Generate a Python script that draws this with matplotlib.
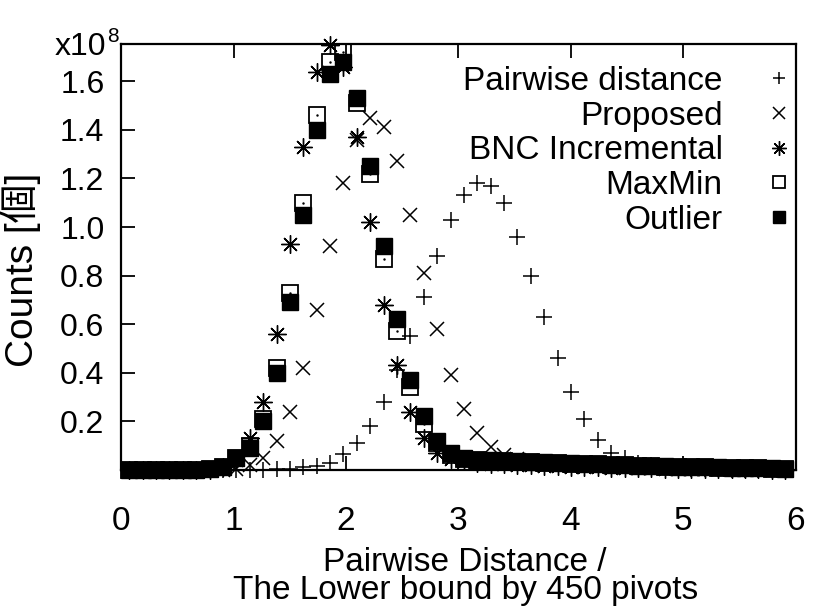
import matplotlib
matplotlib.use("Agg")
import matplotlib.pyplot as plt

plt.rcParams["font.family"] = ["Liberation Sans", "Noto Sans CJK JP"]

# bin centres of the distance ratio, counts are in units of 1e8
distance = [0.073, 0.192, 0.311, 0.430, 0.549, 0.668, 0.787, 0.906, 1.025, 1.144,
            1.263, 1.382, 1.501, 1.620, 1.739, 1.858, 1.977, 2.096, 2.215, 2.334,
            2.453, 2.572, 2.691, 2.810, 2.929, 3.048, 3.167, 3.286, 3.405, 3.524,
            3.643, 3.762, 3.881, 4.000, 4.119, 4.238, 4.357, 4.476, 4.595, 4.714,
            4.833, 4.952, 5.071, 5.190, 5.309, 5.428, 5.547, 5.666, 5.785, 5.904]

pairwise = [0, 0, 0, 0, 0, 0, 0, 0, 0, 0,
            0.001, 0.002, 0.004, 0.010, 0.016, 0.030, 0.065, 0.110, 0.180, 0.280,
            0.410, 0.550, 0.710, 0.880, 1.030, 1.130, 1.180, 1.170, 1.100, 0.960,
            0.800, 0.630, 0.460, 0.320, 0.210, 0.124, 0.070, 0.048, 0.030, 0.020,
            0.013, 0.008, 0.005, 0.003, 0.002, 0.001, 0.001, 0, 0, 0]

proposed = [0, 0, 0, 0, 0, 0, 0, 0, 0.005, 0.02,
            0.05, 0.12, 0.24, 0.42, 0.66, 0.92, 1.18, 1.36, 1.45, 1.41,
            1.27, 1.05, 0.81, 0.58, 0.39, 0.25, 0.15, 0.095, 0.06, 0.045,
            0.036, 0.030, 0.026, 0.022, 0.019, 0.016, 0.014, 0.012, 0.010, 0.009,
            0.008, 0.007, 0.006, 0.005, 0.004, 0.003, 0.003, 0.002, 0.002, 0.001]

bnc_incremental = [0, 0, 0, 0, 0, 0, 0, 0.01, 0.04, 0.13,
                   0.28, 0.56, 0.93, 1.33, 1.64, 1.75, 1.66, 1.37, 1.02, 0.68,
                   0.43, 0.24, 0.13, 0.07, 0.045, 0.035, 0.030, 0.026, 0.023, 0.020,
                   0.018, 0.016, 0.014, 0.012, 0.011, 0.010, 0.009, 0.008, 0.007, 0.006,
                   0.005, 0.005, 0.004, 0.004, 0.003, 0.003, 0.002, 0.002, 0.001, 0.001]

maxmin = [0, 0, 0, 0, 0, 0, 0.002, 0.01, 0.05, 0.10,
          0.21, 0.42, 0.73, 1.10, 1.46, 1.68, 1.72, 1.51, 1.22, 0.87,
          0.57, 0.34, 0.19, 0.11, 0.06, 0.045, 0.040, 0.038, 0.036, 0.034,
          0.032, 0.030, 0.028, 0.026, 0.024, 0.022, 0.020, 0.018, 0.016, 0.014,
          0.013, 0.012, 0.011, 0.010, 0.009, 0.008, 0.007, 0.006, 0.005, 0.004]

outlier = [0, 0, 0, 0, 0, 0, 0.002, 0.01, 0.05, 0.09,
           0.20, 0.40, 0.69, 1.05, 1.40, 1.63, 1.68, 1.53, 1.25, 0.92,
           0.62, 0.37, 0.22, 0.12, 0.07, 0.048, 0.042, 0.039, 0.037, 0.035,
           0.033, 0.031, 0.029, 0.027, 0.025, 0.023, 0.021, 0.019, 0.017, 0.015,
           0.014, 0.013, 0.012, 0.011, 0.010, 0.009, 0.008, 0.007, 0.006, 0.005]

x_ticks = [0, 1, 2, 3, 4, 5, 6]
y_ticks = [0.2, 0.4, 0.6, 0.8, 1.0, 1.2, 1.4, 1.6]

fig = plt.figure(figsize=(8.18, 6.07), dpi=100)
ax = fig.add_axes([0.148, 0.226, 0.825, 0.702])

ms = 11
h1, = ax.plot(distance, pairwise, "+", color="black", ms=ms, mew=1.1, clip_on=False)
h2, = ax.plot(distance, proposed, "x", color="black", ms=ms - 1, mew=1.1, clip_on=False)
h3, = ax.plot(distance, bnc_incremental, marker=(8, 2, 0), ls="none", color="black",
              ms=ms + 2, mew=1.0, clip_on=False)
h4, = ax.plot(distance, maxmin, "s", mfc="none", mec="black", ms=ms, mew=1.3, clip_on=False)
ax.plot(distance, maxmin, ".", color="black", ms=1.5, clip_on=False)
h5, = ax.plot(distance, outlier, "s", color="black", ms=ms, clip_on=False)

ax.set_xlim(0, 6)
ax.set_ylim(0, 1.755)
ax.set_xticks(x_ticks)
ax.set_yticks(y_ticks)
ax.set_yticklabels(["%.1f" % v for v in y_ticks])
ax.tick_params(axis="x", direction="in", length=10, width=1.3, labelsize=24, pad=26, top=True)
ax.tick_params(axis="y", direction="in", length=10, width=1.3, labelsize=23, pad=12)
for s in ax.spines.values():
    s.set_linewidth(1.6)

ax.set_ylabel("Counts [個]", fontsize=28)
ax.yaxis.set_label_coords(-0.118, 0.47)
ax.set_xlabel("Pairwise Distance /\nThe Lower bound by 450 pivots", fontsize=24, linespacing=0.9)
ax.xaxis.set_label_coords(0.51, -0.18)

fig.text(55 / 818, 1 - 55 / 607, "x10", fontsize=23, va="baseline")
fig.text(107 / 818, 1 - 42 / 607, "8", fontsize=15, va="baseline")

ax.legend([h1, h2, h3, h4, h5],
          ["Pairwise distance", "Proposed", "BNC Incremental", "MaxMin", "Outlier"],
          loc="upper right", bbox_to_anchor=(1.0, 0.948), markerfirst=False, frameon=False,
          fontsize=24, handlelength=1.0, handletextpad=1.2, labelspacing=0.11,
          borderaxespad=0, borderpad=0, markerscale=0.8)

fig.savefig("out.png", dpi=100)
